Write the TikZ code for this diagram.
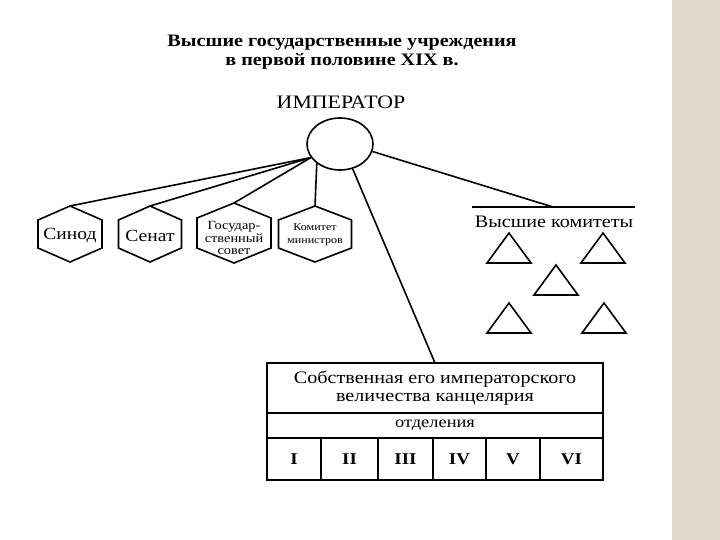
\documentclass[tikz,border=0pt]{standalone}
\usepackage{fontspec}
\setmainfont{Liberation Serif}[FakeStretch=1.15]
\usetikzlibrary{shapes.geometric}
\definecolor{beige}{HTML}{E2DACE}
\tikzset{
  pics/hexa/.style 2 args={code={\draw (0,-#2)--(#1,-#2/2)--(#1,#2/2)--(0,#2)--(-#1,#2/2)--(-#1,-#2/2)--cycle; \coordinate (-top) at (0,-#2);}},
  pics/tri/.style={code={\draw (0,-15)--(22,15)--(-22,15)--cycle;}},
}
\begin{document}
\begin{tikzpicture}[x=1pt,y=-1pt,line width=1.6pt,
  lbl/.style={inner sep=0pt,align=center},
  cell/.style={draw,inner sep=0pt,outer sep=0pt},
  conn/.style={line width=1.6pt}]
\fill[white] (0,0) rectangle (672,540);
\fill[beige] (672,0) rectangle (720,540);
\useasboundingbox (0,0) rectangle (720,540);
% titles
\node[lbl,font=\bfseries\fontsize{17.5}{19}\selectfont] (title) at (342,52) {Высшие государственные учреждения\\в первой половине XIX в.};
\node[lbl,font=\fontsize{19}{20}\selectfont] (emplbl) at (341,102) {ИМПЕРАТОР};
\node[ellipse,draw,minimum width=66pt,minimum height=52pt,inner sep=0pt] (emp) at (340,144) {};
% hexagons
\pic (sin) at (70,234) {hexa={32}{28}};
\pic (sen) at (150,234) {hexa={31.5}{28}};
\pic (gos) at (234,233) {hexa={37}{30}};
\pic (kom) at (315,234) {hexa={36.5}{28}};
\node[lbl,font=\fontsize{17}{19}\selectfont] (sint) at (70,235.5) {Синод};
\node[lbl,font=\fontsize{17}{19}\selectfont] (sent) at (150,235.5) {Сенат};
\node[lbl,font=\fontsize{12.5}{12.5}\selectfont] (gost) at (234,238) {Государ-\\ственный\\совет};
\node[lbl,font=\fontsize{10.5}{13}\selectfont] (komt) at (315,235) {Комитет\\министров};
\draw[conn] (emp.205) -- (sin-top);
\draw[conn] (emp.205) -- (sen-top);
\draw[conn] (emp.205) -- (gos-top);
\draw[conn] (emp.220) -- (kom-top);
% higher committees
\coordinate (vkl) at (472,207);
\coordinate (vkr) at (635,207);
\coordinate (vk) at (553,207);
\draw (vkl) -- (vkr);
\draw[conn] (emp.-13) -- (vk);
\node[lbl,font=\fontsize{17.5}{18}\selectfont] (vkt) at (554,222) {Высшие комитеты};
\pic (t1) at (509,248) {tri};
\pic (t2) at (603,248) {tri};
\pic (t3) at (556,280) {tri};
\pic (t4) at (509,318) {tri};
\pic (t5) at (604,318) {tri};
% chancellery
\node[cell,minimum width=336pt,minimum height=50pt,align=center,font=\fontsize{17.5}{17.5}\selectfont] (kanc) at (435,388) {Собственная его императорского\\величества канцелярия};
\node[cell,minimum width=336pt,minimum height=25pt,font=\fontsize{16}{16}\selectfont] (otd) at (435,425.5) {отделения};
\begin{scope}[every node/.style={cell,minimum height=42pt,font=\bfseries\fontsize{16.5}{18}\selectfont}]
\node[minimum width=54pt] (c1) at (294,459) {\raisebox{-1.5pt}{I}};
\node[minimum width=57pt] (c2) at (349.5,459) {\raisebox{-1.5pt}{II}};
\node[minimum width=55pt] (c3) at (405.5,459) {\raisebox{-1.5pt}{III}};
\node[minimum width=53pt] (c4) at (459.5,459) {\raisebox{-1.5pt}{IV}};
\node[minimum width=54pt] (c5) at (513,459) {\raisebox{-1.5pt}{V}};
\node[minimum width=63pt] (c6) at (571.5,459) {\raisebox{-1.5pt}{VI}};
\end{scope}
\draw[conn] (emp.-63) -- (kanc.north);
\end{tikzpicture}
\end{document}
